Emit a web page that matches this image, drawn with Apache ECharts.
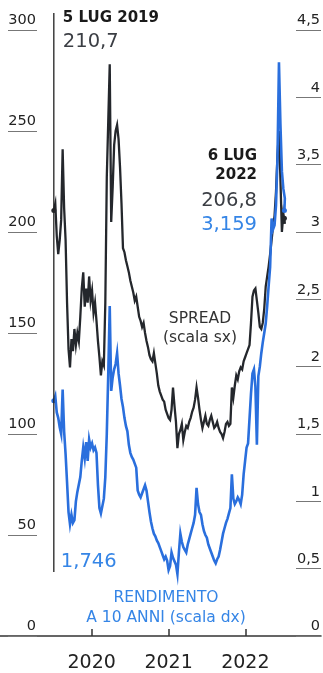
<!DOCTYPE html>
<html>
<head>
<meta charset="utf-8">
<script src="https://cdn.jsdelivr.net/npm/echarts@6/dist/echarts.min.js"></script>
<style>
  html, body { margin: 0; padding: 0; background: #fff; }
  #chart { width: 323px; height: 673px; }
</style>
</head>
<body>
<div id="chart"></div>
<script>
// BTP-Bund spread (basis points, left scale) and Italian 10-year yield (%, right scale),
// weekly readings from 5 Jul 2019; the last reading is 6 Jul 2022.
const firstDate = [2019, 6, 5];
const lastDate = [2022, 6, 6];
const yearTicks = ['2020', '2021', '2022'];

const spread = [
  210.7, 214, 198, 189, 196, 206, 241, 212, 196, 165,
  142, 133, 147, 141, 152, 144, 150, 146, 158, 172,
  180, 163, 172, 165, 178, 166, 171, 160, 165, 156,
  146, 138, 129, 136, 134, 165, 227, 255, 283, 205,
  222, 243, 250, 253, 246, 232, 214, 192, 190, 186,
  183, 180, 176, 173, 170, 166, 168, 163, 158, 156,
  153, 155, 150, 146, 143, 139, 137, 136, 140, 135,
  130, 124, 121, 119, 117, 116, 112, 110, 108, 107,
  112, 123, 114, 106, 93, 100, 102, 105, 97, 101,
  104, 103, 106, 108, 111, 113, 117, 123, 118, 112,
  107, 103, 106, 109, 105, 104, 107, 109, 106, 103,
  104, 106, 103, 101, 100, 98, 101, 105, 106, 104,
  105, 123, 118, 124, 129, 127, 131, 133, 132, 136,
  138, 140, 142, 144, 155, 168, 171, 172, 166, 160,
  153, 152, 155, 162, 173, 178, 183, 189, 196, 203,
  208, 220, 238, 250, 226, 200, 209, 204,
  206.8
];

const yield10 = [
  1.746, 1.78, 1.66, 1.62, 1.55, 1.50, 1.83, 1.52, 1.35, 1.14,
  0.92, 0.83, 0.90, 0.84, 0.86, 1.00, 1.07, 1.08, 1.18, 1.30,
  1.40, 1.32, 1.44, 1.30, 1.46, 1.40, 1.43, 1.38, 1.40, 1.36,
  1.12, 0.95, 0.91, 0.90, 1.02, 1.18, 1.50, 1.95, 2.45, 1.82,
  1.92, 1.98, 2.02, 2.10, 1.95, 1.86, 1.76, 1.70, 1.62, 1.56,
  1.52, 1.42, 1.36, 1.33, 1.31, 1.28, 1.25, 1.08, 1.05, 1.03,
  1.04, 1.09, 1.12, 1.08, 1.00, 0.92, 0.85, 0.80, 0.76, 0.74,
  0.71, 0.69, 0.66, 0.63, 0.60, 0.57, 0.59, 0.56, 0.49, 0.52,
  0.62, 0.58, 0.57, 0.53, 0.46, 0.62, 0.76, 0.70, 0.66, 0.64,
  0.62, 0.68, 0.72, 0.76, 0.80, 0.84, 0.90, 1.10, 0.98, 0.92,
  0.90, 0.83, 0.78, 0.75, 0.73, 0.68, 0.65, 0.62, 0.59, 0.56,
  0.54, 0.57, 0.59, 0.64, 0.70, 0.76, 0.80, 0.84, 0.87, 0.91,
  0.95, 1.20, 1.02, 0.98, 1.00, 1.03, 1.01, 0.98, 1.05, 1.20,
  1.30, 1.40, 1.43, 1.42, 1.80, 1.95, 1.98, 1.85, 1.42, 1.93,
  2.00, 2.10, 2.18, 2.25, 2.32, 2.45, 2.60, 2.74, 3.10, 3.02,
  3.05, 3.20, 3.55, 4.26, 3.80, 3.45, 3.32, 3.25,
  3.159
];

const INK = '#24272c';
const BLUE = '#2a6fdd';
const BLUE_TEXT = '#3585e6';

// Weekly dates (as timestamps), the final point sits on its own date
const DAY = 86400000;
const t0 = new Date(firstDate[0], firstDate[1], firstDate[2]).getTime();
const tEnd = new Date(lastDate[0], lastDate[1], lastDate[2]).getTime();
const dates = spread.map((_, i) => (i === spread.length - 1 ? tEnd : t0 + i * 7 * DAY));
const yearTimes = yearTicks.map(y => new Date(+y, 0, 1).getTime());

const comma = (v, d) => v.toFixed(d).replace('.', ',');

function seriesData(values, color) {
  return values.map((v, i) => {
    const item = { value: [dates[i], v] };
    if (i === 0 || i === values.length - 1) {
      item.symbol = 'circle';
      item.symbolSize = 5;
      item.itemStyle = { color: color, borderWidth: 0 };
    }
    return item;
  });
}

const chart = echarts.init(document.getElementById('chart'), null, { renderer: 'canvas' });

chart.setOption({
  animation: false,
  backgroundColor: '#fff',
  grid: { left: 0, right: 0, top: 30, bottom: 30, containLabel: false },
  xAxis: {
    type: 'value',
    min: new Date(2018, 9, 22).getTime(),
    max: new Date(2022, 11, 27).getTime(),
    axisLine: { show: true, lineStyle: { color: '#333', width: 1.5 } },
    axisTick: { show: true, inside: true, length: 7, customValues: yearTimes,
                lineStyle: { color: '#333', width: 1.5 } },
    axisLabel: {
      customValues: yearTimes,
      formatter: v => yearTicks[yearTimes.indexOf(v)] ?? '',
      color: '#222', fontSize: 19, fontFamily: 'DejaVu Sans', margin: 18
    },
    splitLine: { show: false }
  },
  yAxis: [
    {
      type: 'value', min: 0, max: 300, interval: 50, position: 'left', offset: -8,
      axisLine: { show: false }, splitLine: { show: false },
      axisTick: { show: true, inside: true, length: 29, lineStyle: { color: '#777', width: 1 } },
      axisLabel: {
        inside: true, align: 'right', verticalAlign: 'bottom', margin: 28,
        padding: [0, 0, 2, 0],
        color: '#222', fontSize: 14.5, fontFamily: 'DejaVu Sans'
      }
    },
    {
      type: 'value', min: 0, max: 4.5, interval: 0.5, position: 'right', offset: 0,
      axisLine: { show: false }, splitLine: { show: false },
      axisTick: { show: true, inside: true, length: 25, lineStyle: { color: '#777', width: 1 } },
      axisLabel: {
        inside: true, align: 'right', verticalAlign: 'bottom', margin: 1,
        padding: [0, 0, 2, 0],
        formatter: v => String(v).replace('.', ','),
        color: '#222', fontSize: 14.5, fontFamily: 'DejaVu Sans'
      }
    }
  ],
  series: [
    {
      name: 'Spread', type: 'line', yAxisIndex: 0,
      data: seriesData(spread, INK),
      symbol: 'none', showSymbol: true, showAllSymbol: true,
      lineStyle: { color: INK, width: 2.3, join: 'miter' },
      itemStyle: { color: INK },
      z: 2
    },
    {
      name: 'Rendimento 10 anni', type: 'line', yAxisIndex: 1,
      data: seriesData(yield10, BLUE),
      symbol: 'none', showSymbol: true, showAllSymbol: true,
      lineStyle: { color: BLUE, width: 2.6, join: 'miter' },
      itemStyle: { color: BLUE },
      z: 3
    }
  ]
});

// Annotations: start marker, first/last values and series captions
const xStart = chart.convertToPixel({ xAxisIndex: 0 }, dates[0]);
const last = spread.length - 1;

function txt(text, x, y, font, fill, align) {
  return {
    type: 'text', x: x, y: y, silent: true, z: 10,
    style: { text: text, font: font, fill: fill,
             align: align || 'left', textAlign: align || 'left',
             verticalAlign: 'top', textVerticalAlign: 'top' }
  };
}

const BOLD = 'bold 15px "DejaVu Sans"';
const BIG = '19.5px "DejaVu Sans"';
const CAP = '15.5px "DejaVu Sans"';

chart.setOption({
  graphic: [
    { type: 'line', silent: true, z: 9,
      shape: { x1: xStart, y1: 13, x2: xStart, y2: 572 },
      style: { stroke: '#222', lineWidth: 1.3 } },
    txt('5 LUG 2019', xStart + 9, 11, BOLD, '#1a1a1a'),
    txt(comma(spread[0], 1), xStart + 9, 32, BIG, '#3b3e44'),
    txt(comma(yield10[0], 3), xStart + 7, 552, BIG, BLUE_TEXT),
    txt('6 LUG', 257, 149, BOLD, '#1a1a1a', 'right'),
    txt('2022', 257, 168, BOLD, '#1a1a1a', 'right'),
    txt(comma(spread[last], 1), 257, 191, BIG, '#3b3e44', 'right'),
    txt(comma(yield10[last], 3), 257, 215, BIG, BLUE_TEXT, 'right'),
    txt('SPREAD', 200, 311, CAP, '#333', 'center'),
    txt('(scala sx)', 200, 330, CAP, '#333', 'center'),
    txt('RENDIMENTO', 166, 590, CAP, BLUE_TEXT, 'center'),
    txt('A 10 ANNI (scala dx)', 166, 610, CAP, BLUE_TEXT, 'center')
  ]
});
</script>
</body>
</html>
